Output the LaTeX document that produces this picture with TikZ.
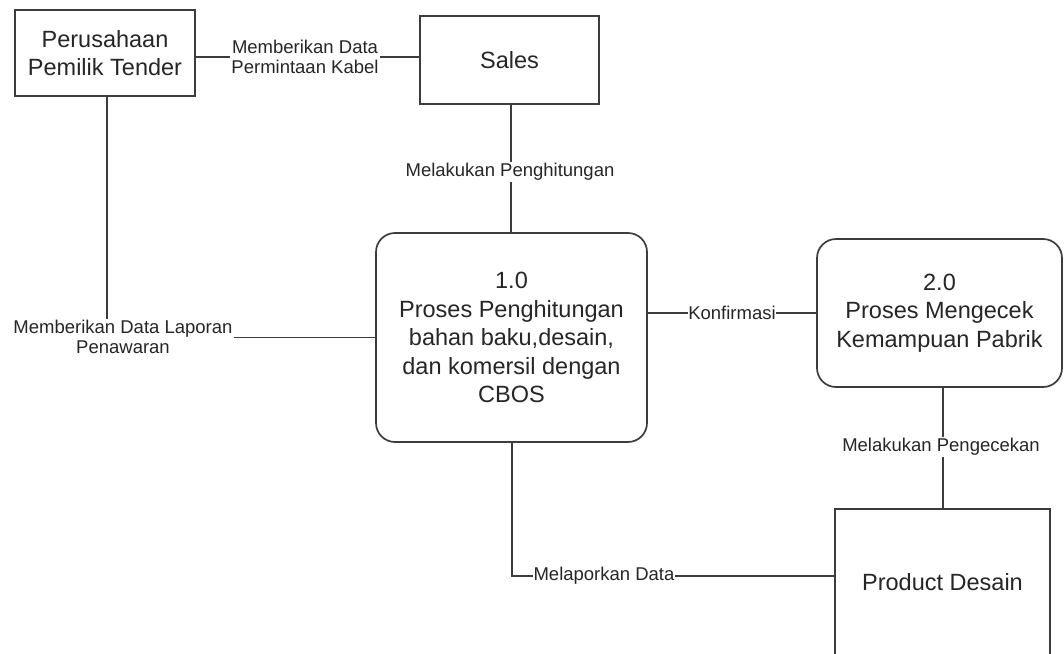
\documentclass[tikz,border=0pt]{standalone}
\usepackage{fontspec}
\setmainfont{Liberation Sans}
\definecolor{edge}{HTML}{3C3C3C}
\definecolor{ink}{HTML}{262626}
\begin{document}
\begin{tikzpicture}[x=1pt,y=-1pt,
  entity/.style={draw=edge, line width=1.7pt, fill=white, inner sep=0pt,
    align=center, text=ink, font=\fontsize{23.5}{28.5}\selectfont},
  process/.style={entity, rounded corners=19pt},
  conn/.style={draw=edge, line width=1.5pt},
  flowlabel/.style={fill=white, inner sep=1.5pt, align=center, text=ink,
    font=\fontsize{18.5}{20}\selectfont}]
\useasboundingbox (0,0) rectangle (1064,653);

% external entities and processes
\node[entity, minimum width=180pt, minimum height=86pt] (tender) at (105,53)
  {Perusahaan\\Pemilik Tender};
\node[entity, minimum width=179pt, minimum height=88pt] (sales) at (509.5,60)
  {Sales};
\node[process, minimum width=271pt, minimum height=209pt] (p1) at (511.5,337.5)
  {1.0\\Proses Penghitungan\\bahan baku,desain,\\dan komersil dengan\\CBOS};
\node[process, minimum width=245pt, minimum height=148pt] (p2) at (939.5,313)
  {2.0\\Proses Mengecek\\Kemampuan Pabrik};
\node[entity, minimum width=215pt, minimum height=146pt] (pd) at (942.5,582)
  {Product Desain};

% helper rows and columns for the flows
\coordinate (rowA) at (0,57);
\coordinate (rowB) at (0,313);
\coordinate (rowC) at (0,576);
\coordinate (colA) at (107,0);
\coordinate (colB) at (943,0);
\coordinate (colC) at (511,0);
\coordinate (colD) at (512,0);

% data flows
\draw[conn] (tender.east |- rowA) -- (sales.west |- rowA);
\draw[conn] (colC |- sales.south) -- (colC |- p1.north);
\draw[conn] (colA |- tender.south) |- (p1.west);
\draw[conn] (p1.east |- rowB) -- (p2.west |- rowB);
\draw[conn] (colB |- p2.south) -- (colB |- pd.north);
\draw[conn] (colD |- p1.south) |- (pd.west |- rowC);

% flow labels
\node[flowlabel] (l1) at (305,57) {Memberikan Data\\Permintaan Kabel};
\node[flowlabel] (l2) at (510,172) {Melakukan Penghitungan};
\node[flowlabel] (l3) at (123,337) {Memberikan Data Laporan\\Penawaran};
\node[flowlabel, inner sep=0.5pt] (l4) at (732,313) {Konfirmasi};
\node[flowlabel] (l5) at (941,447) {Melakukan Pengecekan};
\node[flowlabel, inner sep=0.5pt] (l6) at (604,576) {Melaporkan Data};
\end{tikzpicture}
\end{document}
